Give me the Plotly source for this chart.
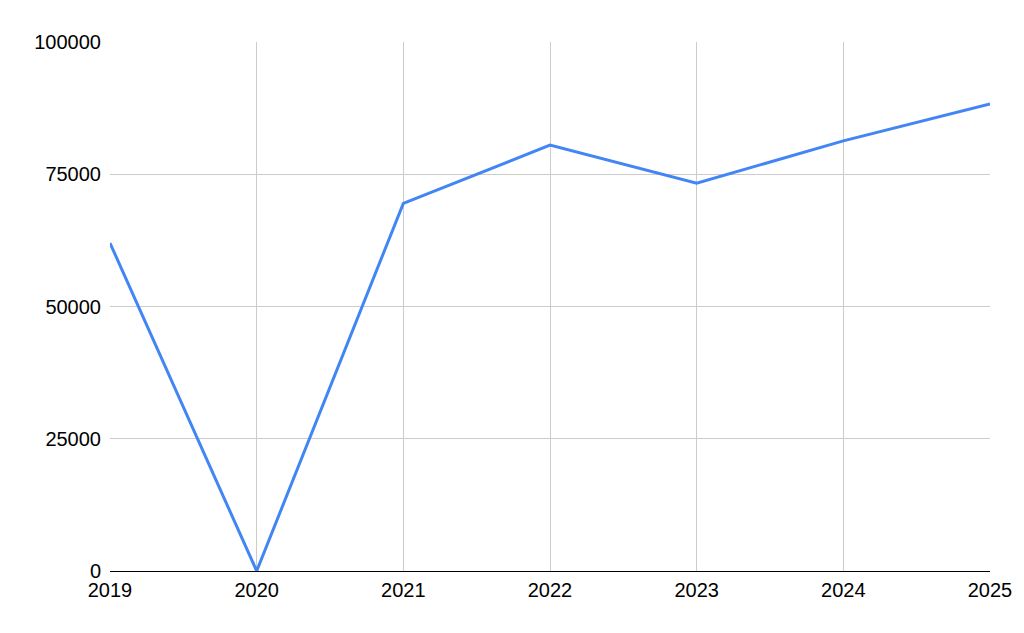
import plotly.graph_objects as go

years = [2019, 2020, 2021, 2022, 2023, 2024, 2025]
values = [62000, 0, 69500, 80500, 73300, 81300, 88300]
y_ticks = [0, 25000, 50000, 75000, 100000]

fig = go.Figure()
fig.add_trace(go.Scatter(
    x=years, y=values, mode="lines",
    line=dict(color="#4285F4", width=3),
    showlegend=False,
))

font = dict(family="Liberation Sans, Arial, sans-serif", size=20, color="#000000")

fig.update_layout(
    width=1016, height=625,
    margin=dict(l=102, r=32, t=34, b=62),
    plot_bgcolor="white", paper_bgcolor="white",
    font=font,
    xaxis=dict(
        range=[2019, 2025], tickmode="array", tickvals=years,
        ticktext=[str(y) for y in years],
        showgrid=True, gridcolor="#cccccc", gridwidth=1.3,
        showline=True, linecolor="#000000", linewidth=1,
        zeroline=False, ticks="", ticklabelstandoff=1,
        tickfont=font,
    ),
    yaxis=dict(
        range=[0, 100000], tickmode="array", tickvals=y_ticks,
        ticktext=[str(v) for v in y_ticks],
        showgrid=True, gridcolor="#cccccc", gridwidth=1.3,
        zeroline=False, showline=False, ticks="",
        ticklabelstandoff=8,
        tickfont=font,
    ),
)

fig.write_html("out.html")
